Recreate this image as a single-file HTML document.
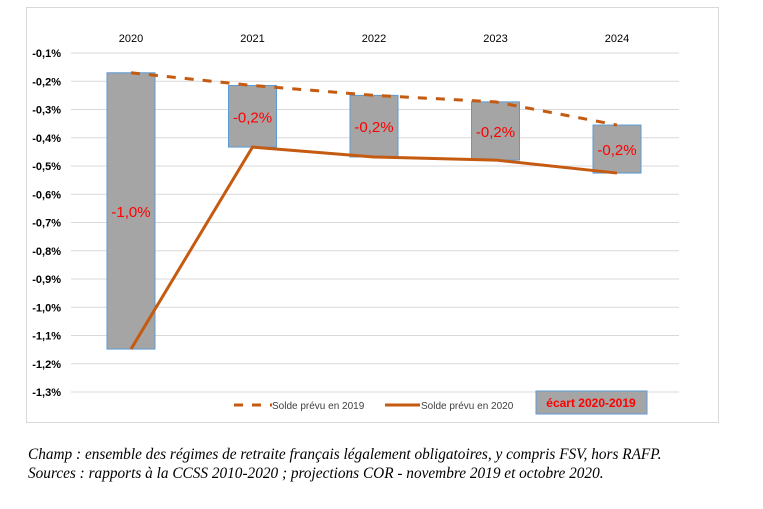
<!DOCTYPE html>
<html><head><meta charset="utf-8"><style>
body{margin:0;background:#fff;width:763px;height:509px;overflow:hidden;position:relative;font-family:"Liberation Sans",sans-serif}
.cap{position:absolute;left:28px;font-family:"Liberation Serif",serif;font-style:italic;font-size:15.3px;color:#000;white-space:nowrap}
</style></head><body>
<svg id="chart" width="763" height="430" style="position:absolute;left:0;top:0"></svg>
<div class="cap" style="top:446px">Champ : ensemble des régimes de retraite français légalement obligatoires, y compris FSV, hors RAFP.</div>
<div class="cap" style="top:465px">Sources : rapports à la CCSS 2010-2020 ; projections COR - novembre 2019 et octobre 2020.</div>
<script>
const categories=["2020","2021","2022","2023","2024"];
const solde2019=[-0.17,-0.215,-0.25,-0.273,-0.355];
const solde2020=[-1.148,-0.433,-0.468,-0.479,-0.525];
const ecartLabels=["-1,0%","-0,2%","-0,2%","-0,2%","-0,2%"];
const yTicks=[-0.1,-0.2,-0.3,-0.4,-0.5,-0.6,-0.7,-0.8,-0.9,-1.0,-1.1,-1.2,-1.3];
const NS="http://www.w3.org/2000/svg";
const svg=document.getElementById('chart');
const y=v=>53+(-0.1-v)*282.5;
const x=i=>131+i*121.5;
function mk(t,a,txt){const e=document.createElementNS(NS,t);for(const k in a)e.setAttribute(k,a[k]);if(txt!==undefined)e.textContent=txt;svg.appendChild(e);return e;}
let fr=mk('rect',{x:26.5,y:7.5,width:692,height:415,fill:'#fff',stroke:'#d9d9d9'});


yTicks.forEach(t=>{
  let g=mk('line',{x1:71,x2:679,y1:y(t),y2:y(t),stroke:'#d9d9d9','stroke-width':1});
  
  
  let l=mk('text',{x:61,y:y(t)+4,'text-anchor':'end','font-size':11,'font-weight':'bold',fill:'#000'},t.toFixed(1).replace('.',',')+'%');
  
  
});
categories.forEach((c,i)=>{
  let l=mk('text',{x:x(i),y:42,'text-anchor':'middle','font-size':11,fill:'#000'},c);
  
  
  const top=Math.min(y(solde2019[i]),y(solde2020[i])),bot=Math.max(y(solde2019[i]),y(solde2020[i]));
  let b=mk('rect',{x:x(i)-24,y:top,width:48,height:bot-top,fill:'#a5a5a5',stroke:'#5b9bd5','stroke-width':1});
  
  
});
const p19=solde2019.map((v,i)=>x(i)+','+y(v)).join(' ');
const p20=solde2020.map((v,i)=>x(i)+','+y(v)).join(' ');
let l19=mk('polyline',{points:p19,fill:'none',stroke:'#c55a11','stroke-width':3,'stroke-dasharray':'9 9'});


let l20=mk('polyline',{points:p20,fill:'none',stroke:'#c55a11','stroke-width':3});


categories.forEach((c,i)=>{
  const m=(y(solde2019[i])+y(solde2020[i]))/2;
  let t=mk('text',{x:x(i),y:m+6,'text-anchor':'middle','font-size':15,fill:'#ff0000'},ecartLabels[i]);
  
  
});
let lg1=mk('line',{x1:234,x2:272,y1:405,y2:405,stroke:'#c55a11','stroke-width':3,'stroke-dasharray':'9 9'});


let lt1=mk('text',{x:272,y:409,'font-size':10,fill:'#404040'},'Solde prévu en 2019');


let lg2=mk('line',{x1:385,x2:420,y1:405,y2:405,stroke:'#c55a11','stroke-width':3});


let lt2=mk('text',{x:421,y:409,'font-size':10,fill:'#404040'},'Solde prévu en 2020');


let lb=mk('rect',{x:536,y:391,width:111,height:23,fill:'#a5a5a5',stroke:'#5b9bd5'});


let lt3=mk('text',{x:591,y:407,'text-anchor':'middle','font-size':12,'font-weight':'bold',fill:'#ff0000'},'écart 2020-2019');


</script>
</body></html>
